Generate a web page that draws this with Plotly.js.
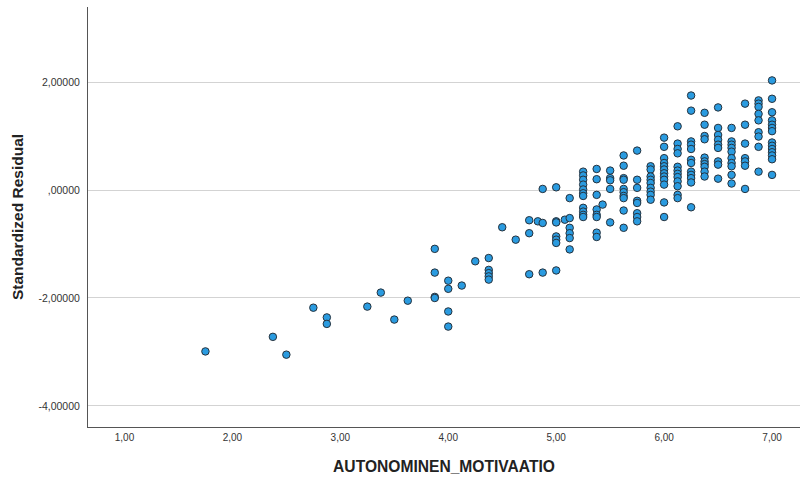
<!DOCTYPE html>
<html>
<head>
<meta charset="utf-8">
<script src="https://cdn.plot.ly/plotly-3.0.1.min.js"></script>
<style>html,body{margin:0;padding:0;background:#fff;}#chart{width:800px;height:479px;}</style>
</head>
<body>
<div id="chart"></div>
<script>
// AUTONOMINEN_MOTIVAATIO (x) and Standardized Residual (y)
const motivaatio = [
  1.75, 2.375, 2.5, 2.75, 2.875, 2.875, 3.25, 3.375, 3.5, 3.625,
  3.875, 3.875, 3.875, 3.875,
  4.0, 4.0, 4.0, 4.0,
  4.125, 4.25,
  4.375, 4.375, 4.375, 4.375, 4.375,
  4.5, 4.625,
  4.75, 4.75, 4.75,
  4.83,
  4.875, 4.875, 4.875,
  5.0, 5.0, 5.0, 5.0, 5.0, 5.0, 5.0,
  5.08,
  5.125, 5.125, 5.125, 5.125, 5.125, 5.125,
  5.25, 5.25, 5.25, 5.25, 5.25, 5.25, 5.25, 5.25, 5.25, 5.25, 5.25,
  5.375, 5.375, 5.375, 5.375, 5.375, 5.375, 5.375, 5.375,
  5.43,
  5.5, 5.5, 5.5, 5.5, 5.5,
  5.625, 5.625, 5.625, 5.625, 5.625, 5.625, 5.625, 5.625, 5.625, 5.625,
  5.75, 5.75, 5.75, 5.75, 5.75, 5.75, 5.75, 5.75,
  5.875, 5.875, 5.875, 5.875, 5.875, 5.875, 5.875, 5.875, 5.875,
  6.0, 6.0, 6.0, 6.0, 6.0, 6.0, 6.0, 6.0, 6.0, 6.0, 6.0, 6.0,
  6.125, 6.125, 6.125, 6.125, 6.125, 6.125, 6.125, 6.125, 6.125, 6.125, 6.125, 6.125,
  6.25, 6.25, 6.25, 6.25, 6.25, 6.25, 6.25, 6.25, 6.25, 6.25, 6.25, 6.25,
  6.375, 6.375, 6.375, 6.375, 6.375, 6.375, 6.375, 6.375, 6.375, 6.375,
  6.5, 6.5, 6.5, 6.5, 6.5, 6.5, 6.5, 6.5, 6.5,
  6.625, 6.625, 6.625, 6.625, 6.625, 6.625, 6.625, 6.625, 6.625, 6.625,
  6.75, 6.75, 6.75, 6.75, 6.75, 6.75, 6.75,
  6.875, 6.875, 6.875, 6.875, 6.875, 6.875, 6.875, 6.875, 6.875,
  7.0, 7.0, 7.0, 7.0, 7.0, 7.0, 7.0, 7.0, 7.0, 7.0, 7.0, 7.0, 7.0, 7.0
];
const residual = [
  -2.99, -2.72, -3.05, -2.18, -2.36, -2.48, -2.16, -1.90, -2.40, -2.05,
  -1.09, -1.53, -1.98, -2.00,
  -1.68, -1.83, -2.25, -2.53,
  -1.77, -1.32,
  -1.26, -1.48, -1.54, -1.60, -1.66,
  -0.69, -0.92,
  -0.56, -0.80, -1.56,
  -0.58,
  0.02, -0.61, -1.53,
  0.05, -0.58, -0.60, -0.86, -0.92, -0.98, -1.49,
  -0.55,
  -0.15, -0.52, -0.70, -0.80, -0.89, -1.10,
  0.34, 0.27, 0.19, 0.10, 0.01, -0.06, -0.11, -0.33, -0.40, -0.46, -0.50,
  0.39, 0.20, -0.09, -0.36, -0.46, -0.50, -0.79, -0.87,
  -0.27,
  0.36, 0.22, 0.18, 0.02, -0.60,
  0.64, 0.45, 0.22, 0.19, 0.02, -0.04, -0.11, -0.15, -0.38, -0.70,
  0.73, 0.19, 0.04, -0.20, -0.24, -0.43, -0.50, -0.58,
  0.44, 0.38, 0.25, 0.19, 0.13, 0.04, -0.03, -0.09, -0.18,
  0.97, 0.80, 0.59, 0.50, 0.44, 0.38, 0.31, 0.25, 0.19, 0.10, -0.23, -0.50,
  1.18, 0.86, 0.76, 0.68, 0.43, 0.36, 0.30, 0.24, 0.16, 0.07, -0.09, -0.15,
  1.75, 1.47, 0.90, 0.84, 0.76, 0.56, 0.50, 0.34, 0.28, 0.22, 0.14, -0.32,
  1.43, 1.21, 1.00, 0.94, 0.60, 0.53, 0.48, 0.43, 0.34, 0.25,
  1.53, 1.15, 1.02, 0.93, 0.84, 0.78, 0.53, 0.47, 0.21,
  1.15, 0.90, 0.84, 0.78, 0.71, 0.59, 0.50, 0.44, 0.28, 0.12,
  1.60, 1.21, 0.86, 0.59, 0.53, 0.45, 0.02,
  1.66, 1.60, 1.54, 1.41, 1.29, 1.07, 0.99, 0.80, 0.34,
  2.03, 1.69, 1.44, 1.29, 1.21, 1.15, 1.09, 0.88, 0.82, 0.76, 0.70, 0.64, 0.57, 0.28
];
const xTickVals = [1, 2, 3, 4, 5, 6, 7];
const xTickText = ["1,00", "2,00", "3,00", "4,00", "5,00", "6,00", "7,00"];
const yTickVals = [2, 0, -2, -4];
const yTickText = ["2,00000", ",00000", "-2,00000", "-4,00000"];

const trace = {
  x: motivaatio,
  y: residual,
  type: 'scatter',
  mode: 'markers',
  marker: {size: 7.5, color: '#2a9be0', line: {color: '#26323d', width: 1}},
  hoverinfo: 'x+y'
};

const layout = {
  width: 800, height: 479,
  margin: {l: 88, r: 0, t: 7, b: 52, pad: 0},
  paper_bgcolor: '#ffffff', plot_bgcolor: '#ffffff',
  showlegend: false,
  font: {family: 'Liberation Sans, Arial, sans-serif', color: '#222'},
  xaxis: {
    range: [0.662, 7.259],
    tickvals: xTickVals, ticktext: xTickText,
    tickfont: {size: 10, color: '#333'},
    showgrid: false, zeroline: false,
    showline: true, linecolor: '#555', linewidth: 1,
    ticks: '', ticklabelstandoff: 1,
    title: {text: '<b>AUTONOMINEN_MOTIVAATIO</b>', font: {size: 15.6, color: '#222'}, standoff: 19},
    automargin: false
  },
  yaxis: {
    range: [-4.39, 3.39],
    tickvals: yTickVals, ticktext: yTickText,
    tickfont: {size: 10.5, color: '#333'},
    showgrid: true, gridcolor: '#d3d3d3', gridwidth: 1,
    zeroline: false,
    showline: true, linecolor: '#555', linewidth: 1,
    ticks: '', ticklabelstandoff: 5,
    title: {text: '<b>Standardized Residual</b>', font: {size: 15.5, color: '#222'}, standoff: 11},
    automargin: false
  }
};

Plotly.newPlot('chart', [trace], layout, {displayModeBar: false, staticPlot: true});
</script>
</body>
</html>
